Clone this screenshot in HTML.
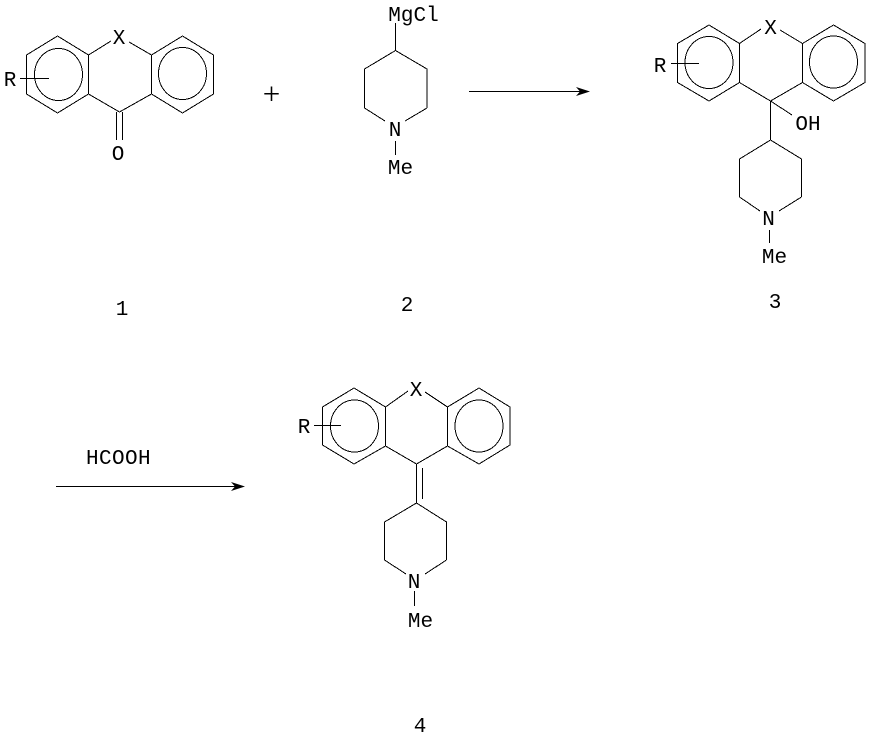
<!DOCTYPE html>
<html>
<head>
<meta charset="utf-8">
<style>
html,body{margin:0;padding:0;background:#fff;width:876px;height:740px;overflow:hidden}
svg{display:block}
.b{fill:none;stroke:#000;stroke-width:1;shape-rendering:crispEdges}
.c{fill:none;stroke:#000;stroke-width:1;shape-rendering:crispEdges}
text{font-family:"Liberation Mono","DejaVu Sans Mono",monospace;font-size:21px;fill:#000;text-anchor:middle}
</style>
</head>
<body>
<svg width="876" height="740" viewBox="0 0 876 740" xmlns="http://www.w3.org/2000/svg">
<!-- 1 -->
<path class="b" d="M57.5 36L88.5 55V94L57.5 113L26.5 94V55ZM182.5 36L151.5 55V94L182.5 113L213.5 94V55ZM88.5 55L111 41M129 42L151.5 55M88.5 94L119.5 112L151.5 94M116.5 112V140M122.5 112V140M20 78.5H49"/>
<ellipse class="c" cx="58.5" cy="74.5" rx="24" ry="26"/>
<ellipse class="c" cx="182.5" cy="73.5" rx="24" ry="26"/>
<text x="119" y="44">X</text><text x="118" y="160">O</text><text x="10" y="86">R</text>
<text x="271.5" y="104" style="font-family:'Liberation Serif',serif;font-size:31px">+</text>
<text x="122" y="315">1</text>
<!-- 2 -->
<path class="b" d="M395.5 23V50.5M364.5 108V69L395.5 50.5L427 69V108M364.5 108L385 121M427 108L405 121M395.5 141V155"/>
<text x="413.5" y="21">MgCl</text><text x="395" y="136">N</text><text x="400.5" y="174">Me</text>
<text x="407" y="311">2</text>
<path class="b" d="M469 91.5H582"/><path d="M590 91.5L576 87L580 91.5L576 96Z" fill="#000"/>
<!-- 3 -->
<path class="b" d="M709 25L739.5 43.5V82.5L709 101L677.5 82.5V43.5ZM833.5 25L802.5 43.5V82.5L833.5 101L865 82.5V43.5ZM739.5 43.5L761 29M780 30L802.5 43.5M739.5 82.5L770.5 101L802.5 82.5M770.5 101L792 115M770.5 101V140M739.5 197V159L770.5 140L801.5 159V197M739.5 197L760 211M801.5 197L779 211M769.5 230V243M671 63.5H699"/>
<ellipse class="c" cx="709" cy="62.5" rx="24" ry="26"/>
<ellipse class="c" cx="833.5" cy="62" rx="24" ry="26"/>
<text x="770.5" y="34">X</text><text x="808" y="130">OH</text><text x="768.5" y="225">N</text><text x="774.5" y="263">Me</text><text x="660" y="72">R</text>
<text x="775" y="308">3</text>
<!-- 4 -->
<path class="b" d="M354 388L385.5 407V446L354 464L322.5 445V407ZM479 388L447.5 407V446L479 464L510 445V407ZM385.5 407L408 391M425 392L447.5 407M385.5 446L416.5 464L447.5 446M416.5 464V503M422.5 468V499M384.5 560V522L416.5 503L446.5 522V560M384.5 560L406 574M446.5 560L425 574M414.5 591V606M314 425.5H341"/>
<ellipse class="c" cx="354.5" cy="426" rx="24" ry="26"/>
<ellipse class="c" cx="479" cy="426" rx="24" ry="26"/>
<text x="416" y="396">X</text><text x="414" y="588">N</text><text x="420.5" y="627">Me</text><text x="304" y="433">R</text>
<text x="118.5" y="464" style="letter-spacing:.4px">HCOOH</text>
<path class="b" d="M56 486.5H238"/><path d="M245 486.5L231 482L235 486.5L231 491Z" fill="#000"/>
<text x="420" y="732">4</text>
</svg>
</body>
</html>
